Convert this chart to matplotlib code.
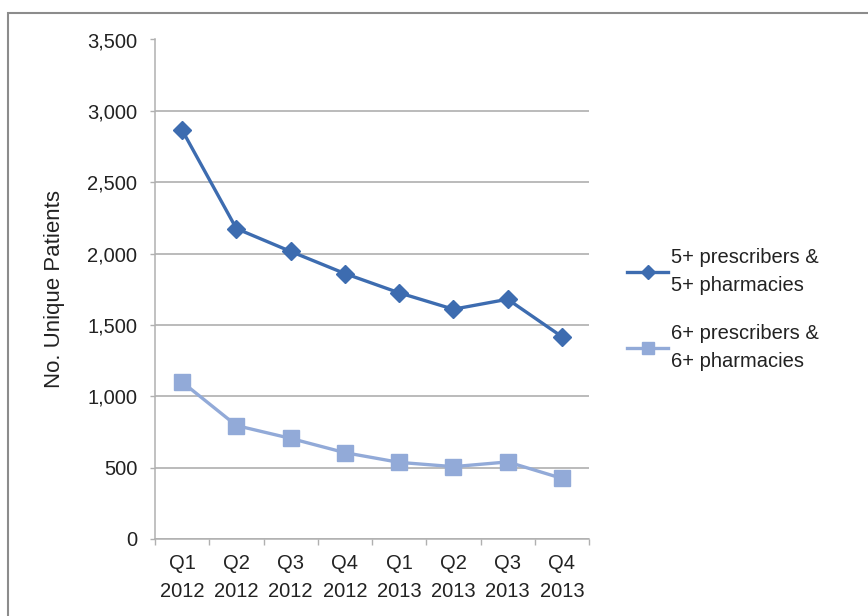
import matplotlib
matplotlib.use("Agg")
import matplotlib.pyplot as plt
from matplotlib.patches import Rectangle

plt.rcParams['font.family'] = ['Liberation Sans', 'DejaVu Sans']

categories = ["Q1\n2012", "Q2\n2012", "Q3\n2012", "Q4\n2012",
              "Q1\n2013", "Q2\n2013", "Q3\n2013", "Q4\n2013"]
series5 = [2865, 2175, 2015, 1860, 1725, 1610, 1680, 1418]
series6 = [1100, 795, 705, 605, 537, 507, 540, 425]
labels = ["5+ prescribers &\n5+ pharmacies", "6+ prescribers &\n6+ pharmacies"]
yticks = [0, 500, 1000, 1500, 2000, 2500, 3000, 3500]

W, H = 868, 616
FS = 14.5
fig = plt.figure(figsize=(W / 100, H / 100), dpi=100)
ax = fig.add_axes([155 / W, 1 - 539 / H, (589 - 155) / W, (539 - 39.5) / H])

x = list(range(len(categories)))
c1 = "#3D6CB0"
c2 = "#92AAD8"
ax.plot(x, series5, color=c1, lw=2.4, marker="D", ms=9, mec=c1, mfc=c1, label=labels[0], zorder=4)
ax.plot(x, series6, color=c2, lw=2.4, marker="s", ms=11, mec=c2, mfc=c2, label=labels[1], zorder=3)

ax.set_xlim(-0.5, len(categories) - 0.5)
ax.set_ylim(0, 3500)
ax.set_yticks(yticks)
ax.set_yticklabels([f"{v:,}" for v in yticks])
ax.set_xticks(x)
ax.set_xticklabels(categories, linespacing=1.6)
ax.set_xticks([i - 0.5 for i in range(len(categories) + 1)], minor=True)
ax.tick_params(axis="x", which="major", length=0, pad=11, labelsize=FS, colors="#222222")
ax.tick_params(axis="x", which="minor", length=4.3, width=1, color="#b0b0b0", direction="out")
ax.tick_params(axis="y", length=3.8, width=1, color="#b0b0b0", pad=9, labelsize=FS, labelcolor="#222222")

ax.grid(axis="y", color="#a8a8a8", lw=1.1)
ax.set_axisbelow(True)
for s in ["top", "right"]:
    ax.spines[s].set_visible(False)
for s in ["left", "bottom"]:
    ax.spines[s].set_color("#b0b0b0")
    ax.spines[s].set_linewidth(1.1)

ax.set_ylabel("No. Unique Patients", fontsize=16, color="#222222")
ax.yaxis.set_label_coords(-(155 - 65) / (589 - 155), 0.5)

leg = ax.legend(loc="upper left", bbox_to_anchor=(627 / W, 1 - 248 / H), bbox_transform=fig.transFigure,
                frameon=False, fontsize=FS, handlelength=2.05, labelspacing=1.45, handletextpad=0.15,
                borderpad=0, borderaxespad=0, markerscale=0.75)
for t in leg.get_texts():
    t.set_color("#222222")
    t.set_linespacing(1.6)

fig.patches.append(Rectangle((8 / W, -0.1), 1.2, 1 - 13 / H + 0.1, transform=fig.transFigure,
                             fill=False, ec="#8c8c8c", lw=1.5))

fig.savefig("out.png", dpi=100)
